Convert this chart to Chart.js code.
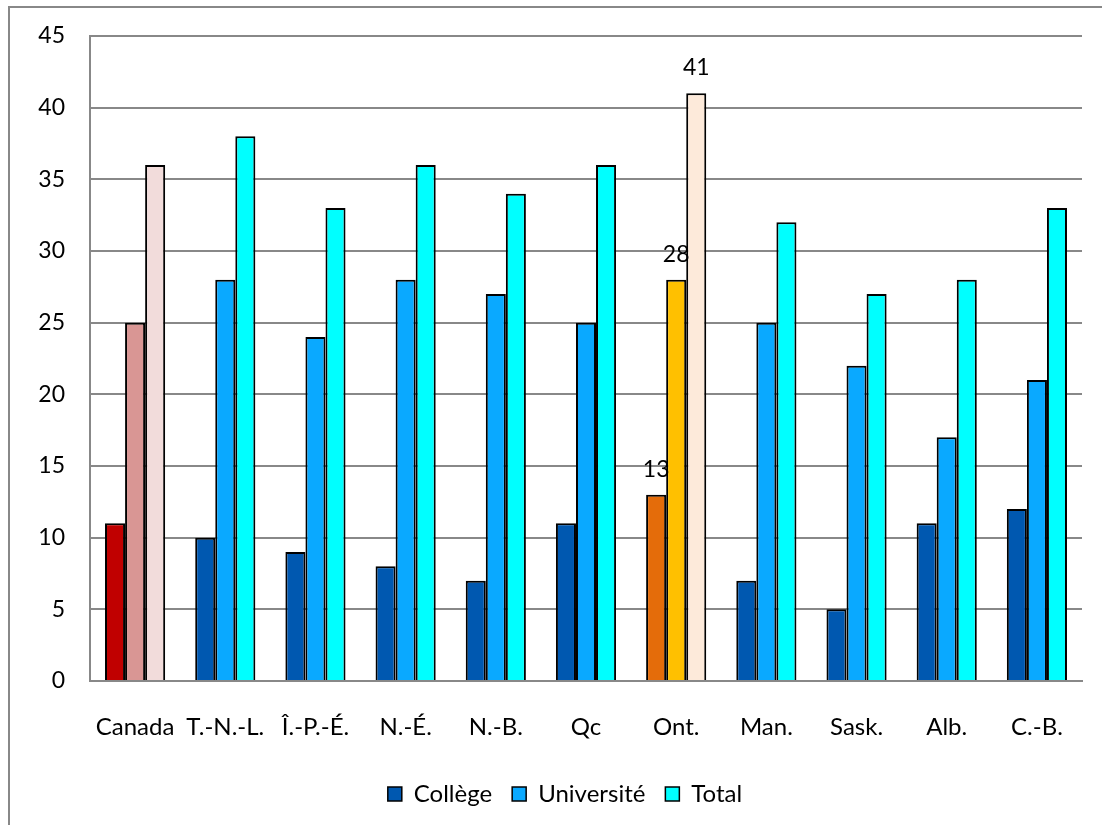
<!DOCTYPE html>
<html>
<head>
<meta charset="utf-8">
<script src="https://cdn.jsdelivr.net/npm/chart.js@4"></script>
<style>
  html, body { margin: 0; padding: 0; background: #fff; }
  #wrap { position: relative; width: 1102px; height: 825px; }
</style>
</head>
<body>
<div id="wrap"><canvas id="c" width="1102" height="825"></canvas></div>
<script>
// Regions
const regions = ['Canada', 'T.-N.-L.', 'Î.-P.-É.', 'N.-É.', 'N.-B.', 'Qc', 'Ont.', 'Man.', 'Sask.', 'Alb.', 'C.-B.'];

// Percentages by level of study
const college    = [11, 10, 9, 8, 7, 11, 13, 7, 5, 11, 12];
const university = [25, 28, 24, 28, 27, 25, 28, 25, 22, 17, 21];
const total      = [36, 38, 33, 36, 34, 36, 41, 32, 27, 28, 33];

// Y axis ticks
const yTicks = [0, 5, 10, 15, 20, 25, 30, 35, 40, 45];

// Base colours per series, with highlight colours for Canada and Ontario
const baseColors = ['#0058B0', '#0AA9FF', '#00FFFF'];
const canadaColors = ['#C00000', '#D99694', '#F2DCDB'];
const ontarioColors = ['#E46C0A', '#FFC000', '#FDEADA'];
const labelledRegion = 'Ont.';

function colorsFor(seriesIndex) {
  return regions.map(r => r === 'Canada' ? canadaColors[seriesIndex]
    : r === labelledRegion ? ontarioColors[seriesIndex]
    : baseColors[seriesIndex]);
}

const FONT = 'Lato, "Open Sans", sans-serif';

// Outer frame of the chart area
const framePlugin = {
  id: 'frame',
  beforeDraw(chart) {
    const ctx = chart.ctx;
    ctx.save();
    ctx.fillStyle = '#fff';
    ctx.fillRect(0, 0, chart.width, chart.height);
    ctx.strokeStyle = '#888888';
    ctx.lineWidth = 2;
    ctx.strokeRect(9, 7, chart.width + 20, chart.height + 20);
    ctx.restore();
  }
};

// Nudge the legend row to the right
const legendShift = {
  id: 'legendShift',
  afterLayout(chart) {
    const lg = chart.legend;
    if (lg) { lg.left += 24; lg.right += 24; }
  }
};

// Value labels above the Ontario bars
const valueLabels = {
  id: 'valueLabels',
  afterDatasetsDraw(chart) {
    const ctx = chart.ctx;
    const idx = regions.indexOf(labelledRegion);
    ctx.save();
    ctx.font = '23px ' + FONT;
    ctx.fillStyle = '#000';
    ctx.textAlign = 'center';
    ctx.textBaseline = 'bottom';
    chart.data.datasets.forEach((ds, i) => {
      const bar = chart.getDatasetMeta(i).data[idx];
      const { x, y } = bar.getProps(['x', 'y'], true);
      ctx.fillText(String(ds.data[idx]), x, y - 14);
    });
    ctx.restore();
  }
};

new Chart(document.getElementById('c'), {
  type: 'bar',
  data: {
    labels: regions,
    datasets: [
      { label: 'Collège', data: college, backgroundColor: colorsFor(0) },
      { label: 'Université', data: university, backgroundColor: colorsFor(1) },
      { label: 'Total', data: total, backgroundColor: colorsFor(2) }
    ].map(d => Object.assign(d, {
      borderColor: '#000',
      borderWidth: 2,
      categoryPercentage: 0.667,
      barPercentage: 1.0
    }))
  },
  options: {
    responsive: false,
    animation: false,
    devicePixelRatio: 1,
    layout: { padding: { left: 0, right: 20, top: 36, bottom: 9 } },
    scales: {
      x: {
        grid: { display: false, drawTicks: false },
        border: { color: '#888888', width: 2 },
        ticks: { color: '#000', font: { family: FONT, size: 24 }, padding: 32, maxRotation: 0, autoSkip: false },
        afterFit(s) { s.height = 81; s.paddingLeft = 0; s.paddingRight = 0; }
      },
      y: {
        min: 0, max: 45,
        afterBuildTicks(s) { s.ticks = yTicks.map(v => ({ value: v })); },
        grid: { color: '#888888', lineWidth: 2, drawTicks: false },
        border: { color: '#888888', width: 2 },
        ticks: { color: '#000', font: { family: FONT, size: 23 }, padding: 25 },
        afterFit(s) { s.width = 90; s.paddingTop = 0; s.paddingBottom = 0; }
      }
    },
    plugins: {
      tooltip: { enabled: false },
      legend: {
        position: 'bottom',
        labels: {
          color: '#000',
          font: { family: FONT, size: 24 },
          boxWidth: 14,
          boxHeight: 14,
          padding: 20,
          generateLabels(chart) {
            return chart.data.datasets.map((ds, i) => ({
              text: ds.label,
              fillStyle: baseColors[i],
              strokeStyle: '#000',
              lineWidth: 1.5,
              datasetIndex: i,
              hidden: false
            }));
          }
        }
      }
    }
  },
  plugins: [framePlugin, legendShift, valueLabels]
});
</script>
</body>
</html>
